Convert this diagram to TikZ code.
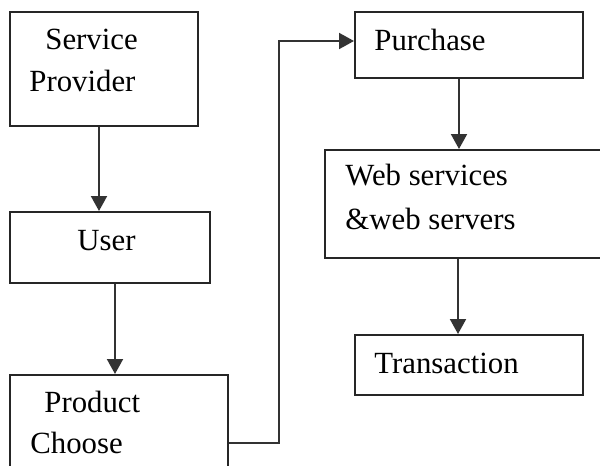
\documentclass[tikz,border=0pt]{standalone}
\usepackage{fontspec}
\setmainfont{Liberation Serif}
\usetikzlibrary{arrows.meta}

\begin{document}
\begin{tikzpicture}[
        x=0.5pt, y=-0.5pt,
        box/.style={rectangle, draw=black!85, line width=1pt, inner sep=0pt},
        lbl/.style={anchor=base west, inner sep=0pt, font=\fontsize{15.4}{18}\selectfont},
        flow/.style={draw=black!80, line width=1pt, -{Triangle[width=8pt,length=7.5pt]}}
    ]
        \useasboundingbox (0,0) rectangle (600,466);
        \clip (0,0) rectangle (600,466);

        % left column
        \node[box, minimum width=94pt, minimum height=57pt] (prov) at (104,69) {};
        \node[lbl] at (45,49) {Service};
        \node[lbl] at (29,91) {Provider};

        \node[box, minimum width=100pt, minimum height=35.5pt] (user) at (110,247.5) {};
        \node[lbl] at (77,250) {User};

        \node[box, minimum width=109pt, minimum height=50pt] (prod) at (119,425) {};
        \node[lbl] at (44,412) {Product};
        \node[lbl] at (30,453) {Choose};

        % right column
        \node[box, minimum width=114pt, minimum height=33pt] (buy) at (469,45) {};
        \node[lbl] at (374,50) {Purchase};

        \node[box, minimum width=140pt, minimum height=54pt] (web) at (465,204) {};
        \node[lbl] at (345,185) {Web services};
        \node[lbl] at (345,229) {\&web servers};

        \node[box, minimum width=114pt, minimum height=30pt] (trans) at (469,365) {};
        \node[lbl] at (374,373) {Transaction};

        \coordinate (turn) at (279,443);

        \draw[flow] (prov.south -| 99,0) -- (user.north -| 99,0);
        \draw[flow] (user.south -| 115,0) -- (prod.north -| 115,0);
        \draw[flow] (prod.east |- turn) -- (turn) |- (buy.west |- 0,41);
        \draw[flow] (buy.south -| 459,0) -- (web.north -| 459,0);
        \draw[flow] (web.south -| 458,0) -- (trans.north -| 458,0);
    \end{tikzpicture}
\end{document}
